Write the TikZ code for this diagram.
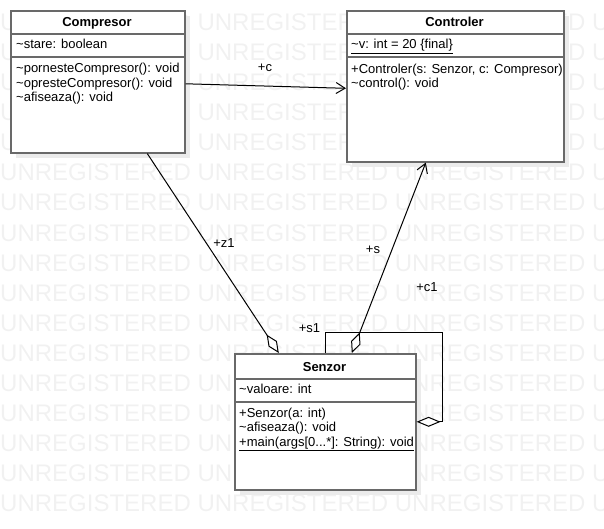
\documentclass[tikz,border=0pt]{standalone}
\usepackage{fontspec}
\setmainfont{Liberation Sans}
\usetikzlibrary{arrows.meta,shadows}
\definecolor{wmgray}{RGB}{241,241,241}
\definecolor{boxline}{RGB}{105,105,105}
\tikzset{
  classbox/.style={draw=boxline, line width=1.6pt, fill=white, anchor=north west,
    inner sep=0pt, drop shadow={shadow xshift=5pt, shadow yshift=-5pt, fill=black!8, opacity=1}},
  member/.style={anchor=base west, inner sep=0pt, font=\fontsize{13}{15}\selectfont},
  classname/.style={anchor=base, inner sep=0pt, font=\fontsize{13}{15}\selectfont\bfseries},
  compartment/.style={draw=boxline, line width=1.6pt},
  conn/.style={draw=black, line width=1pt},
  role/.style={anchor=base, inner sep=0pt, font=\fontsize{13}{15}\selectfont},
  aggstart/.style={{Diamond[fill=white, length=22pt, width=10pt]}-},
  aggnav/.style={{Diamond[fill=white, length=22pt, width=10pt]}-{Straight Barb[length=9pt, width=11pt]}},
  aggend/.style={-{Diamond[fill=white, length=24pt, width=10pt]}},
  navend/.style={-{Straight Barb[length=9pt, width=11pt]}},
  wmark/.style={anchor=base west, inner sep=0pt, text=wmgray, font=\fontsize{24}{24}\selectfont},
}
\begin{document}
\begin{tikzpicture}[x=1pt, y=-1pt]
\useasboundingbox (0,0) rectangle (604,529);

% background watermark rows
\begin{scope}
  \clip (0,0) rectangle (604,529);
  \foreach \k in {0,...,16}
    \node[wmark] (wm\k) at (0,{31+30*\k}) {UNREGISTERED UNREGISTERED UNREGISTERED UNREGISTERED};
\end{scope}

% class Compresor
\node[classbox, minimum width=174pt, minimum height=142pt] (comp) at (10,10) {};
\draw[compartment] (10,34) -- (184,34) (10,57) -- (184,57);
\node[classname] (compT) at (97,27) {Compresor};
\node[member] (compA) at (16,49) {\textasciitilde stare: boolean};
\node[member] (compO1) at (16,73) {\textasciitilde pornesteCompresor(): void};
\node[member] (compO2) at (16,87.5) {\textasciitilde opresteCompresor(): void};
\node[member] (compO3) at (16,102) {\textasciitilde afiseaza(): void};

% class Controler
\node[classbox, minimum width=217pt, minimum height=151pt] (ctrl) at (346,10) {};
\draw[compartment] (346,34) -- (563,34) (346,57) -- (563,57);
\node[classname] (ctrlT) at (454.5,27) {Controler};
\node[member] (ctrlA) at (351,49) {\underline{\textasciitilde v: int = 20 \{final\}}};
\node[member] (ctrlO1) at (351,74) {+Controler(s: Senzor, c: Compresor)};
\node[member] (ctrlO2) at (351,88) {\textasciitilde control(): void};

% class Senzor
\node[classbox, minimum width=181pt, minimum height=136pt] (senz) at (234,353) {};
\draw[compartment] (234,379) -- (415,379) (234,402) -- (415,402);
\node[classname] (senzT) at (324.5,371) {Senzor};
\node[member] (senzA) at (239,393) {\textasciitilde valoare: int};
\node[member] (senzO1) at (239,417) {+Senzor(a: int)};
\node[member] (senzO2) at (239,431.5) {\textasciitilde afiseaza(): void};
\node[member] (senzO3) at (239,446) {\underline{+main(args[0...*]: String): void}};

% associations
\draw[conn, navend] ([yshift=-2pt]comp.east) -- ([yshift=-2pt]ctrl.west);
\draw[conn, aggstart] ([xshift=-46.5pt]senz.north) -- ([xshift=49.5pt]comp.south);
\draw[conn, aggnav] ([xshift=26.5pt]senz.north) -- ([xshift=-29.5pt]ctrl.south);
\draw[conn, aggend] (senz.north) -- ++(0,-21) -| ([xshift=26pt]senz.east) -- (senz.east);

% role names
\node[role] (rc) at (265,72) {+c};
\node[role] (rz1) at (224,247) {+z1};
\node[role] (rs) at (373,253) {+s};
\node[role] (rc1) at (427,291) {+c1};
\node[role] (rs1) at (309.5,332) {+s1};
\end{tikzpicture}
\end{document}
